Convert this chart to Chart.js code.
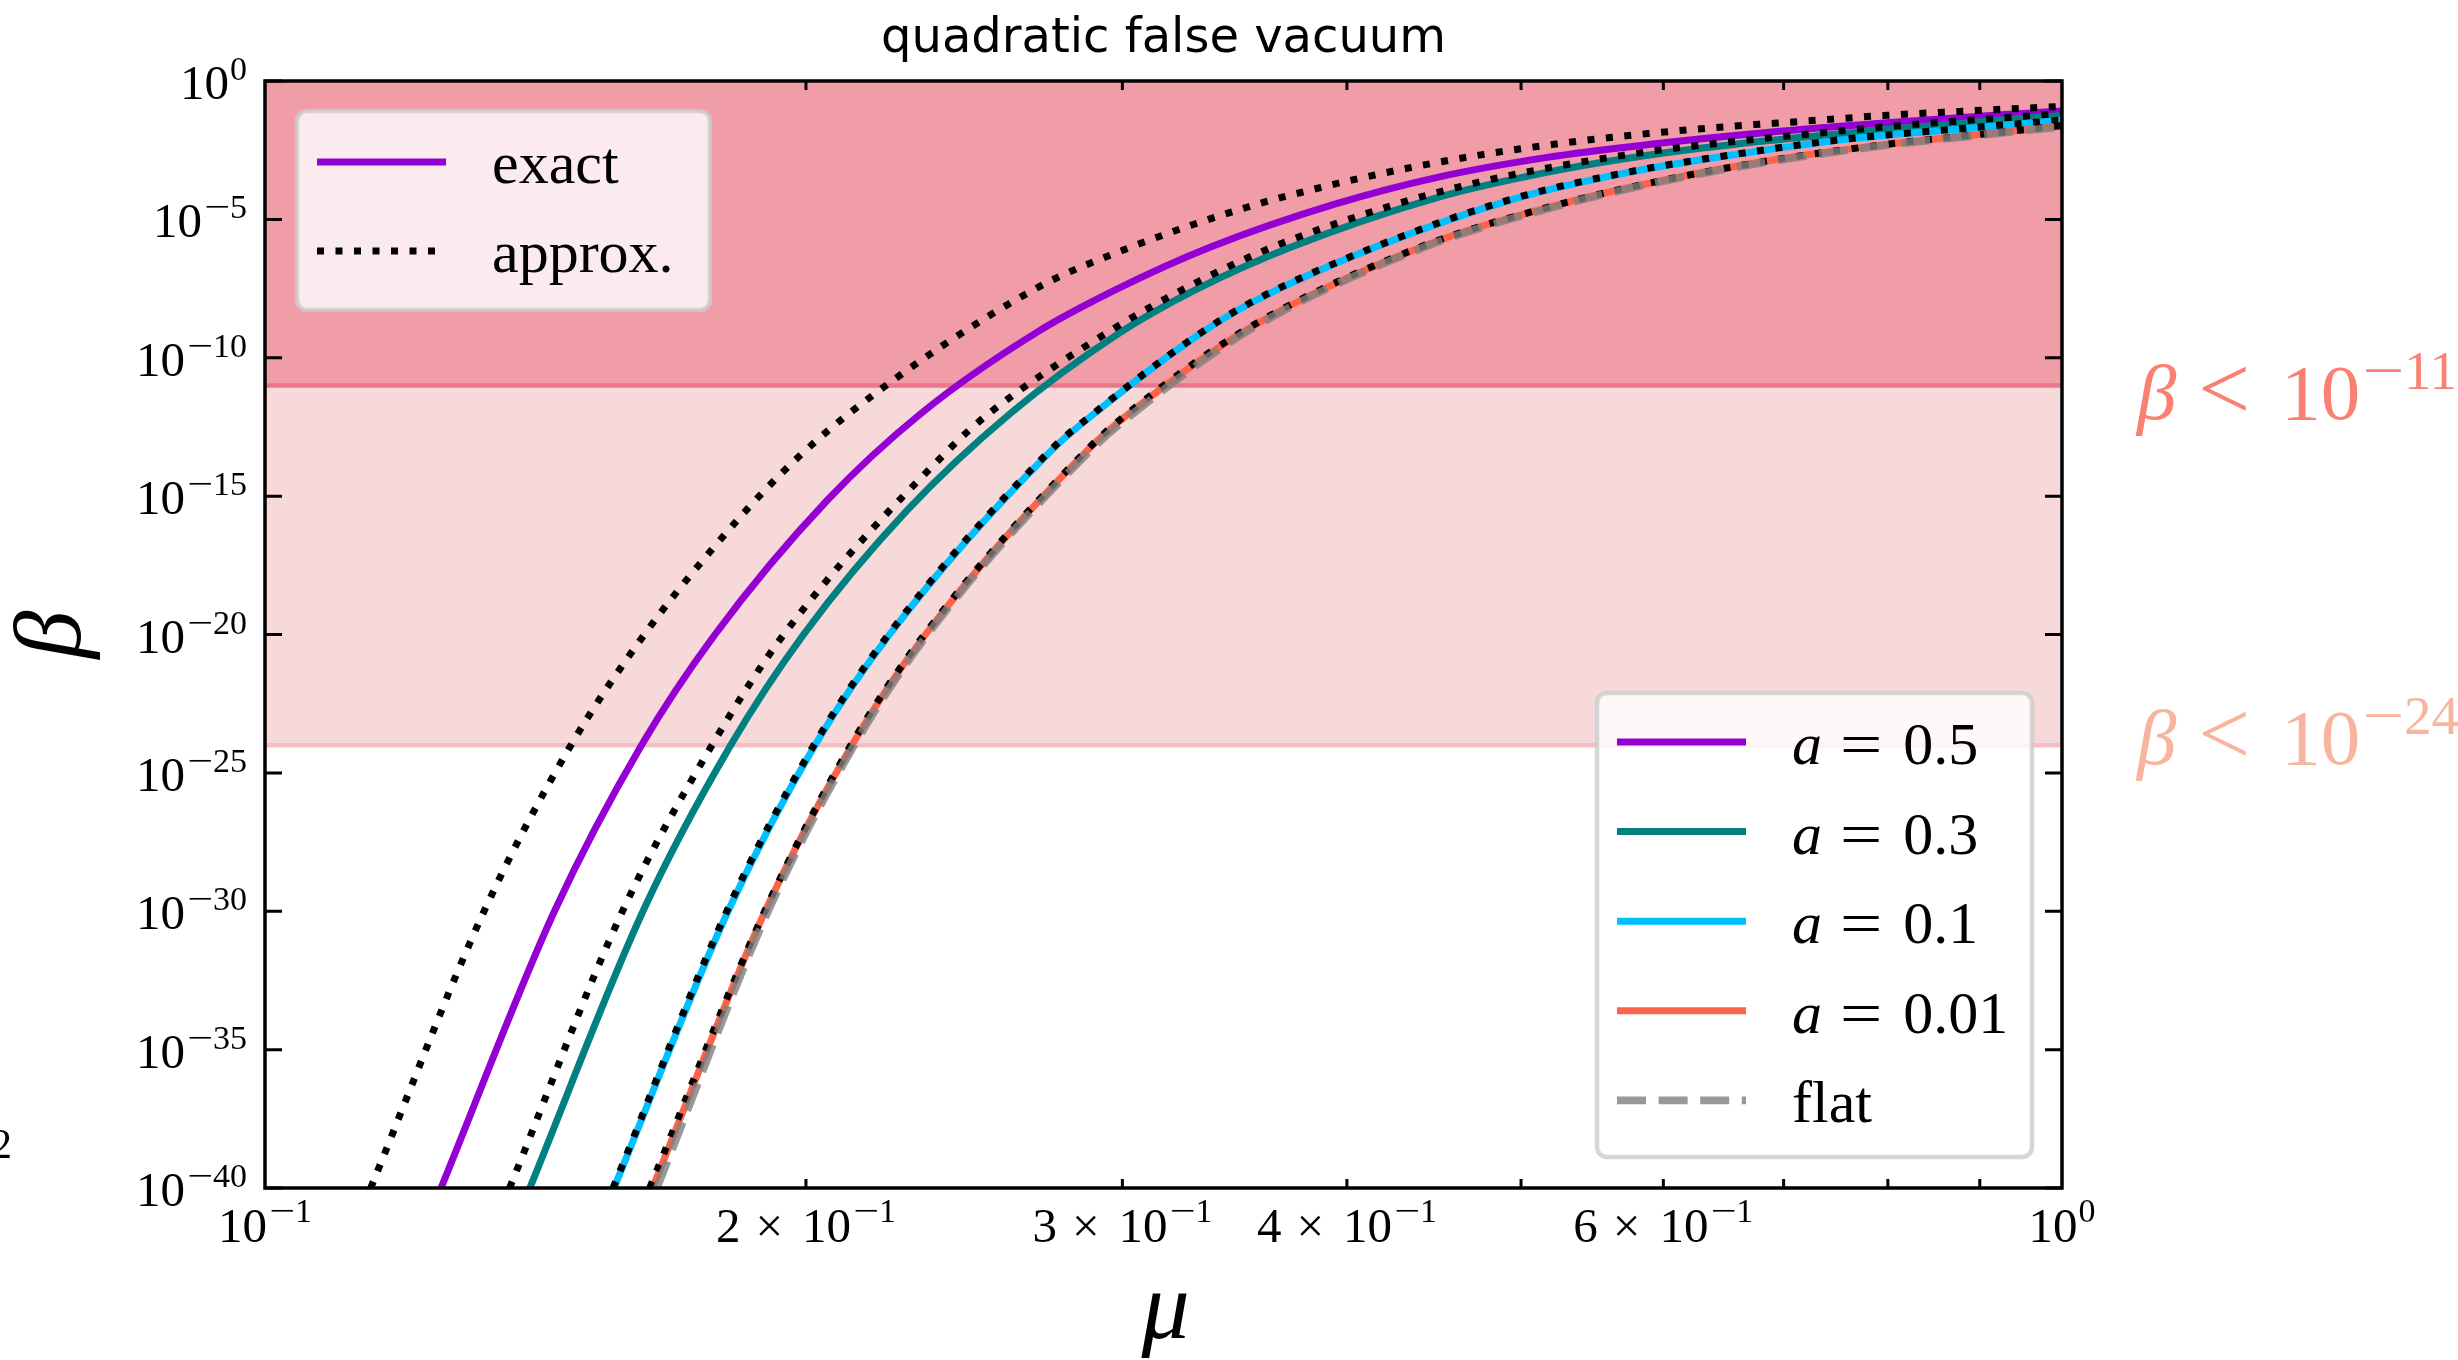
<!DOCTYPE html>
<html>
<head>
<meta charset="utf-8">
<title>quadratic false vacuum</title>
<script src="https://cdn.jsdelivr.net/npm/chart.js@4.4.1/dist/chart.umd.min.js"></script>
<style>
  html, body { margin:0; padding:0; background:#fff; }
  canvas { display:block; }
</style>
</head>
<body>
<canvas id="chart" width="2458" height="1360"></canvas>
<script>
// ── Values (mu, log10 beta) ───────────────────────────────────────────────────
const muExact05       = [0.1253, 0.1449, 0.1619, 0.1780, 0.2056, 0.2319, 0.2684, 0.2973, 0.3359, 0.3934, 0.4485, 0.5159, 0.5934, 0.6827, 0.7987, 0.9515, 1.0];
const logBetaExact05  = [-40, -30, -24.03, -20, -15.14, -12, -9.11, -7.55, -6.0, -4.46, -3.49, -2.77, -2.27, -1.87, -1.51, -1.17, -1.08];

const muApprox05      = [0.1145, 0.1324, 0.1479, 0.1626, 0.1772, 0.1931, 0.2115, 0.2685, 0.3034, 0.3512, 0.3900, 0.4293, 0.4768, 0.5296, 0.5883, 0.6476, 0.7192, 0.7987, 0.8872, 1.0];
const logBetaApprox05 = [-40, -30, -24.03, -20, -16.95, -14.28, -12, -7.5, -6.0, -4.58, -3.79, -3.19, -2.65, -2.23, -1.90, -1.66, -1.45, -1.24, -1.08, -0.92];

const muExact03       = [0.1404, 0.1623, 0.1815, 0.1994, 0.2278, 0.2600, 0.2988, 0.3294, 0.3725, 0.4485, 0.5159, 0.5934, 0.6827, 0.7987, 0.9515, 1.0];
const logBetaExact03  = [-40, -30, -24.03, -20, -15.5, -12, -9.11, -7.55, -6.0, -4.22, -3.31, -2.65, -2.17, -1.75, -1.35, -1.25];

const muApprox03      = [0.1368, 0.1581, 0.1772, 0.1944, 0.2400, 0.2530, 0.2958, 0.3294, 0.3637, 0.4256, 0.4726, 0.5250, 0.5832, 0.6476, 0.7192, 0.7987, 0.8872, 1.0];
const logBetaApprox03 = [-40, -30, -24.03, -20, -13.34, -12, -9.0, -7.30, -6.0, -4.46, -3.67, -3.07, -2.59, -2.23, -1.93, -1.65, -1.42, -1.18];

const muExact01       = [0.1564, 0.1810, 0.2022, 0.2226, 0.2740, 0.2896, 0.3294, 0.3531, 0.4150, 0.4981, 0.5729, 0.6592, 0.7580, 0.8719, 1.0];
const logBetaExact01  = [-40, -30, -24.03, -20, -13.34, -12, -9.25, -8.05, -6.0, -4.22, -3.31, -2.65, -2.11, -1.75, -1.42];

const muApprox01      = [0.1562, 0.1807, 0.2019, 0.2223, 0.2736, 0.2893, 0.3291, 0.3528, 0.4144, 0.4975, 0.5726, 0.6590, 0.7578, 0.8717, 1.0];
const logBetaApprox01 = [-40, -30, -24.03, -20, -13.34, -12, -9.25, -8.04, -6.0, -4.21, -3.30, -2.64, -2.10, -1.74, -1.41];

const muExact001       = [0.1643, 0.1898, 0.2120, 0.2331, 0.2869, 0.3028, 0.3531, 0.4400, 0.5250, 0.6038, 0.6947, 0.7987, 0.9188, 1.0];
const logBetaExact001  = [-40, -30, -24.03, -20, -13.34, -12, -8.93, -6.0, -4.46, -3.55, -2.83, -2.29, -1.87, -1.62];

const muApprox001      = [0.1637, 0.1897, 0.2117, 0.2328, 0.2866, 0.3022, 0.3526, 0.4395, 0.5248, 0.6036, 0.6945, 0.7985, 0.9186, 1.0];
const logBetaApprox001 = [-40, -30, -24.03, -20, -13.34, -12, -8.92, -6.0, -4.46, -3.55, -2.83, -2.29, -1.87, -1.61];

const muFlat      = [0.1652, 0.1905, 0.2126, 0.2337, 0.2880, 0.3043, 0.3544, 0.4418, 0.5267, 0.6047, 0.6964, 0.8008, 0.9207, 1.0];
const logBetaFlat = [-40, -30, -24.03, -20, -13.34, -12, -8.93, -6.0, -4.48, -3.57, -2.85, -2.31, -1.89, -1.65];

// ── Axes, ticks, bands ────────────────────────────────────────────────────────
const xMin = 0.1, xMax = 1;
const yMinExp = -40, yMaxExp = 0;
const yTickExps   = [0, -5, -10, -15, -20, -25, -30, -35, -40];
const xMinorTicks = [0.2, 0.3, 0.4, 0.5, 0.6, 0.7, 0.8, 0.9];
const xLabelVals  = [0.1, 0.2, 0.3, 0.4, 0.6, 1];
const xLabelMant  = ['', '2', '3', '4', '6', ''];
const xLabelExps  = [-1, -1, -1, -1, -1, 0];
const bandExps    = [-11, -24];
const aValues     = ['0.5', '0.3', '0.1', '0.01'];

// ── Helpers ───────────────────────────────────────────────────────────────────
const SERIF = '"Liberation Serif", "DejaVu Serif", serif';
const fnt = (size, italic) => (italic ? 'italic ' : '') + size + 'px ' + SERIF;
const pts = (mu, lb) => mu.map((m, i) => ({ x: m, y: Math.pow(10, lb[i]) }));

function runWidth(ctx, r) {
  ctx.font = r.font || fnt(r.size, r.italic);
  return ctx.measureText(r.t).width * (r.sx || 1);
}

// draw a row of text pieces (for superscripts / italics) around (x, y)
function drawRuns(ctx, runs, x, y, align) {
  const widths = runs.map(r => runWidth(ctx, r));
  const total = runs.reduce((a, r, i) => a + (r.gap || 0) + widths[i], 0);
  let cx = align === 'right' ? x - total : align === 'center' ? x - total / 2 : x;
  ctx.textAlign = 'left';
  ctx.textBaseline = 'alphabetic';
  runs.forEach((r, i) => {
    cx += r.gap || 0;
    ctx.font = r.font || fnt(r.size, r.italic);
    ctx.save();
    ctx.translate(cx, y + (r.dy || 0));
    if (r.sx) ctx.scale(r.sx, 1);
    ctx.fillText(r.t, 0, 0);
    ctx.restore();
    cx += widths[i];
  });
}

function powRuns(mant, exp, size, supSize, raise) {
  const runs = [];
  if (mant) {
    runs.push({ t: mant, size });
    runs.push({ t: '×', size, gap: 15 });
  }
  runs.push({ t: '10', size, gap: mant ? 19 : 0 });
  if (exp < 0) runs.push({ t: '−', size: supSize, dy: -raise, gap: 2, sx: 1.35 });
  runs.push({ t: String(Math.abs(exp)), size: supSize, dy: -raise, gap: exp < 0 ? 0 : 1 });
  return runs;
}

function legendFrame(ctx, x, y, w, h) {
  const r = 10;
  ctx.beginPath();
  ctx.moveTo(x + r, y);
  ctx.arcTo(x + w, y, x + w, y + h, r);
  ctx.arcTo(x + w, y + h, x, y + h, r);
  ctx.arcTo(x, y + h, x, y, r);
  ctx.arcTo(x, y, x + w, y, r);
  ctx.closePath();
  ctx.fillStyle = 'rgba(255,255,255,0.8)';
  ctx.fill();
  ctx.lineWidth = 4.5;
  ctx.strokeStyle = 'rgba(204,204,204,0.8)';
  ctx.stroke();
}

function legendSample(ctx, ds, x1, x2, y) {
  ctx.save();
  ctx.strokeStyle = ds.borderColor;
  ctx.lineWidth = ds.borderWidth;
  ctx.setLineDash(ds.borderDash || []);
  ctx.lineCap = 'butt';
  ctx.beginPath();
  ctx.moveTo(x1, y);
  ctx.lineTo(x2, y);
  ctx.stroke();
  ctx.restore();
}

// ── Datasets ──────────────────────────────────────────────────────────────────
const LW = 7;
const DOT = [7, 11.5];
const line = (label, mu, lb, color, order, extra) => Object.assign({
  label, data: pts(mu, lb), borderColor: color, borderWidth: LW,
  showLine: true, pointRadius: 0, fill: false, clip: 0,
  cubicInterpolationMode: 'monotone', order
}, extra || {});

const dsExact05  = line('a = 0.5',  muExact05,  logBetaExact05,  '#9400D3', 8);
const dsApprox05 = line('approx.',  muApprox05, logBetaApprox05, '#000000', 7, { borderDash: DOT });
const dsExact03  = line('a = 0.3',  muExact03,  logBetaExact03,  '#008080', 6);
const dsApprox03 = line('approx.',  muApprox03, logBetaApprox03, '#000000', 5, { borderDash: DOT });
const dsExact01  = line('a = 0.1',  muExact01,  logBetaExact01,  '#00BFFF', 4);
const dsApprox01 = line('approx.',  muApprox01, logBetaApprox01, '#000000', 3, { borderDash: DOT });
const dsExact001 = line('a = 0.01', muExact001, logBetaExact001, '#FF6347', 2);
const dsApprox001= line('approx.',  muApprox001,logBetaApprox001,'#000000', 1, { borderDash: DOT });
const dsFlat     = line('flat',     muFlat,     logBetaFlat,     'rgba(128,128,128,0.8)', 0, { borderWidth: 7.9, borderDash: [29, 12.6] });

// ── Decorations drawn through the chart's scales ─────────────────────────────
const decor = {
  id: 'decor',
  beforeDatasetsDraw(chart) {
    const { ctx, chartArea: a, scales: { y } } = chart;
    const yHi = y.getPixelForValue(Math.pow(10, bandExps[0]));
    const yLo = y.getPixelForValue(Math.pow(10, bandExps[1]));
    const w = a.right - a.left;
    ctx.save();
    ctx.fillStyle = '#F8D9D9';
    ctx.fillRect(a.left, a.top, w, yLo - a.top);
    ctx.fillStyle = '#F09DA8';
    ctx.fillRect(a.left, a.top, w, yHi - a.top);
    ctx.lineWidth = 4.5;
    ctx.strokeStyle = '#E8788A';
    ctx.beginPath(); ctx.moveTo(a.left, yHi); ctx.lineTo(a.right, yHi); ctx.stroke();
    ctx.strokeStyle = '#F5BEC2';
    ctx.beginPath(); ctx.moveTo(a.left, yLo); ctx.lineTo(a.right, yLo); ctx.stroke();
    ctx.restore();
  },
  afterDatasetsDraw(chart) {
    const { ctx, chartArea: a, scales: { x, y } } = chart;
    ctx.save();

    // frame
    ctx.strokeStyle = '#000';
    ctx.lineWidth = 3.5;
    ctx.strokeRect(a.left, a.top, a.right - a.left, a.bottom - a.top);

    // ticks, pointing inwards on all four sides
    ctx.lineWidth = 3;
    ctx.beginPath();
    yTickExps.forEach(e => {
      const py = y.getPixelForValue(Math.pow(10, e));
      ctx.moveTo(a.left, py); ctx.lineTo(a.left + 17, py);
      ctx.moveTo(a.right, py); ctx.lineTo(a.right - 17, py);
    });
    xMinorTicks.forEach(v => {
      const px = x.getPixelForValue(v);
      ctx.moveTo(px, a.bottom); ctx.lineTo(px, a.bottom - 9);
      ctx.moveTo(px, a.top); ctx.lineTo(px, a.top + 9);
    });
    ctx.stroke();

    // tick labels
    ctx.fillStyle = '#000';
    yTickExps.forEach(e => {
      const py = y.getPixelForValue(Math.pow(10, e));
      drawRuns(ctx, powRuns('', e, 49, 34, 19), a.left - 18, py + 18, 'right');
    });
    xLabelVals.forEach((v, i) => {
      const px = x.getPixelForValue(v);
      drawRuns(ctx, powRuns(xLabelMant[i], xLabelExps[i], 49, 34, 20), px, a.bottom + 54, 'center');
    });

    // axis titles
    ctx.font = fnt(96, true);
    ctx.textAlign = 'center';
    ctx.textBaseline = 'alphabetic';
    ctx.fillText('μ', (a.left + a.right) / 2 + 2, 1338);
    ctx.save();
    ctx.translate(80, (a.top + a.bottom) / 2);
    ctx.rotate(-Math.PI / 2);
    ctx.fillText('β', 0, 0);
    ctx.restore();

    // stray glyph from a neighbouring panel, cut at the left edge
    ctx.font = fnt(42);
    ctx.textAlign = 'right';
    ctx.fillText('2', 12, 1158);

    // title
    ctx.font = '48px "DejaVu Sans", sans-serif';
    ctx.textAlign = 'center';
    ctx.fillText('quadratic false vacuum', (a.left + a.right) / 2, 52);

    // legend: exact / approx.
    legendFrame(ctx, 297, 111, 413, 199);
    [[dsExact05, 'exact', 162], [dsApprox05, 'approx.', 251]].forEach(([ds, txt, ry]) => {
      legendSample(ctx, ds, 317, 446, ry);
      ctx.fillStyle = '#000';
      drawRuns(ctx, [{ t: txt, size: 60 }], 492, ry + 21, 'left');
    });

    // legend: a values + flat
    legendFrame(ctx, 1597, 693, 435, 464);
    const rows = [dsExact05, dsExact03, dsExact01, dsExact001, dsFlat];
    rows.forEach((ds, i) => {
      const ry = 742 + i * 89.6;
      legendSample(ctx, ds, 1617, 1746, ry);
      ctx.fillStyle = '#000';
      const runs = i < aValues.length
        ? [{ t: 'a', size: 60, italic: true }, { t: '=', size: 60, gap: 18, sx: 1.25 }, { t: aValues[i], size: 60, gap: 21 }]
        : [{ t: 'flat', size: 60 }];
      drawRuns(ctx, runs, 1792, ry + 22, 'left');
    });

    // threshold annotations on the right
    const ann = (exp, color, base) => {
      ctx.fillStyle = color;
      drawRuns(ctx, [
        { t: 'β', size: 79, italic: true },
        { t: '<', size: 92, gap: 22 },
        { t: '10', size: 79, gap: 31 },
        { t: '−', size: 55, dy: -30, gap: 2, sx: 1.35 },
        { t: String(Math.abs(exp)), size: 55, dy: -30 }
      ], 2137, base, 'left');
    };
    ann(bandExps[0], '#FA8072', y.getPixelForValue(Math.pow(10, bandExps[0])) + 34);
    ann(bandExps[1], '#F7B5A0', y.getPixelForValue(Math.pow(10, bandExps[1])) + 19);

    ctx.restore();
  }
};

// ── Chart ────────────────────────────────────────────────────────────────────
new Chart(document.getElementById('chart').getContext('2d'), {
  type: 'scatter',
  data: {
    datasets: [dsFlat, dsApprox001, dsExact001, dsApprox01, dsExact01, dsApprox03, dsExact03, dsApprox05, dsExact05]
  },
  options: {
    responsive: false,
    animation: false,
    devicePixelRatio: 1,
    events: [],
    layout: { padding: { left: 265, right: 396, top: 81, bottom: 172 } },
    plugins: { legend: { display: false }, tooltip: { enabled: false }, title: { display: false } },
    scales: {
      x: { type: 'logarithmic', min: xMin, max: xMax, display: false },
      y: { type: 'logarithmic', min: Math.pow(10, yMinExp), max: Math.pow(10, yMaxExp), display: false }
    }
  },
  plugins: [decor]
});
</script>
</body>
</html>
